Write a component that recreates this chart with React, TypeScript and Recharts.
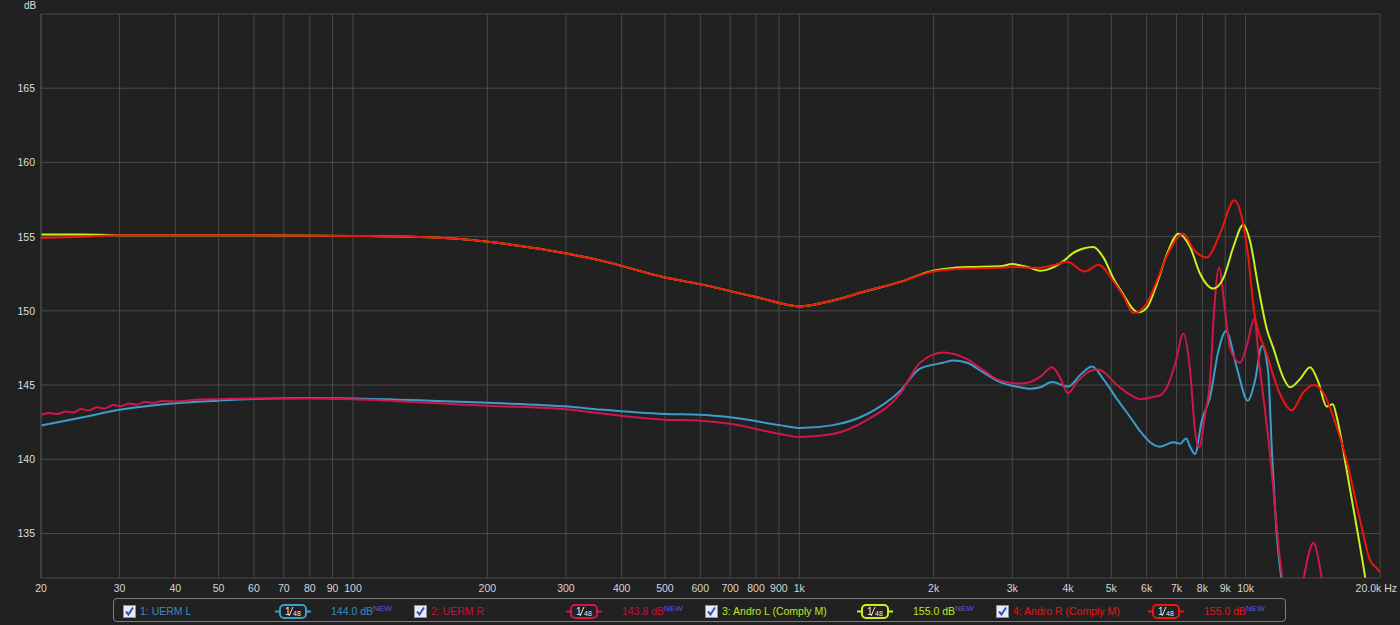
import { LineChart, Line, XAxis, YAxis, CartesianGrid } from 'recharts'

// log frequency ticks (Hz) and level ticks (dB)
const freqTicks = [20, 30, 40, 50, 60, 70, 80, 90, 100, 200, 300, 400, 500, 600, 700, 800, 900, 1000, 2000, 3000, 4000, 5000, 6000, 7000, 8000, 9000, 10000, 20000]
const dbTicks = [135, 140, 145, 150, 155, 160, 165]
const gridDb = [135, 140, 145, 150, 155, 160, 165, 170]

// 1: UERM L
const uermLFreq = [20, 25, 30, 40, 50, 60, 80, 100, 149, 201, 303, 358, 500, 599, 700, 905, 1004, 1190, 1419, 1682, 1864, 2100, 2211, 2377, 2582, 2818, 3124, 3289, 3462, 3684, 4000, 4280, 4528, 4800, 5151, 5510, 5800, 6107, 6432, 6890, 7130, 7354, 7508, 7704, 7975, 8324, 8688, 9038, 9550, 10108, 10496, 10880, 11222, 11458, 11756, 12064, 12684, 20000]
const uermLDb = [142.27, 142.85, 143.33, 143.77, 143.95, 144.06, 144.12, 144.1, 143.95, 143.8, 143.55, 143.35, 143.05, 143.0, 142.83, 142.3, 142.1, 142.3, 143.05, 144.6, 146.1, 146.5, 146.65, 146.5, 145.85, 145.2, 144.85, 144.75, 144.85, 145.2, 144.9, 145.75, 146.25, 145.4, 144.05, 142.85, 141.9, 141.15, 140.85, 141.15, 141.05, 141.4, 140.85, 140.35, 142.6, 144.2, 147.3, 148.65, 146.2, 143.95, 145.3, 147.65, 146.0, 140.4, 134.7, 131.5, 124, 110]

// 2: UERM R
const uermRFreq = [20, 20.9, 21.8, 22.7, 23.6, 24.6, 25.6, 26.7, 27.8, 29, 30.2, 31.5, 32.8, 34.2, 35.6, 37.5, 40, 45, 50, 60, 80, 100, 149, 201, 303, 358, 500, 599, 700, 905, 1004, 1190, 1419, 1682, 1864, 2100, 2377, 2582, 2818, 3124, 3289, 3462, 3684, 3839, 4000, 4185, 4528, 4677, 5151, 5510, 5800, 6202, 6432, 6660, 6950, 7252, 7508, 7704, 7864, 8112, 8324, 8498, 8720, 8992, 9226, 9714, 10108, 10442, 10770, 11338, 11940, 12146, 12800, 13468, 14182, 14834, 15500, 20000]
const uermRDb = [143.0, 143.12, 143.05, 143.22, 143.15, 143.38, 143.28, 143.5, 143.42, 143.66, 143.58, 143.76, 143.68, 143.85, 143.8, 143.93, 143.9, 144.02, 144.05, 144.1, 144.1, 144.05, 143.8, 143.6, 143.35, 143.1, 142.67, 142.6, 142.4, 141.7, 141.5, 141.7, 142.65, 144.4, 146.5, 147.2, 146.75, 146.0, 145.3, 145.1, 145.2, 145.55, 146.2, 145.5, 144.45, 145.2, 146.0, 146.05, 145.0, 144.35, 144.05, 144.2, 144.3, 144.85, 146.4, 148.45, 146.0, 141.9, 140.8, 143.0, 145.3, 150.0, 152.9, 150.0, 147.5, 146.5, 147.9, 149.45, 146.0, 140.4, 133.2, 131.5, 128, 131.9, 134.35, 131.9, 128, 115]

// 3: Andro L (Comply M)
const androLFreq = [20, 25, 30, 40, 60, 100, 149, 201, 303, 358, 500, 599, 808, 1004, 1190, 1419, 1682, 1994, 2377, 2818, 3000, 3289, 3462, 3684, 3924, 4110, 4328, 4558, 4800, 5054, 5322, 5604, 5750, 6004, 6323, 6660, 7070, 7508, 7906, 8466, 8916, 9386, 9882, 10230, 10676, 11148, 11534, 12146, 12574, 13240, 13942, 14552, 15196, 15674, 16000, 16846, 17740, 18516, 20000]
const androLDb = [155.15, 155.15, 155.1, 155.1, 155.1, 155.05, 154.95, 154.65, 153.85, 153.4, 152.25, 151.8, 150.9, 150.3, 150.7, 151.35, 151.95, 152.7, 152.95, 153.0, 153.15, 152.9, 152.7, 152.9, 153.4, 153.9, 154.2, 154.3, 153.6, 152.2, 151.1, 150.1, 149.9, 150.2, 151.8, 153.8, 155.2, 154.3, 152.5, 151.5, 152.2, 154.3, 155.8, 154.7, 151.6, 148.8, 147.5, 145.5, 144.85, 145.4, 146.2, 145.2, 143.55, 143.7, 142.85, 139.25, 135.4, 132.1, 125]

// 4: Andro R (Comply M)
const androRFreq = [20, 25, 30, 40, 60, 100, 149, 201, 303, 358, 500, 599, 808, 1004, 1190, 1419, 1682, 1994, 2377, 2818, 3000, 3462, 3684, 3974, 4368, 4677, 5054, 5322, 5604, 6004, 6323, 6660, 7252, 7636, 8184, 8764, 9434, 9800, 10140, 10442, 11148, 11940, 12684, 13468, 14182, 14932, 15722, 16846, 18046, 19000, 19670, 20000]
const androRDb = [154.9, 155.0, 155.1, 155.1, 155.1, 155.05, 154.95, 154.65, 153.85, 153.4, 152.25, 151.8, 150.9, 150.3, 150.7, 151.35, 151.95, 152.65, 152.85, 152.9, 152.95, 152.9, 153.05, 153.3, 152.65, 153.1, 152.0, 151.0, 149.85, 150.5, 152.0, 153.7, 155.2, 154.15, 153.6, 155.2, 157.45, 156.3, 153.6, 150.0, 147.1, 144.4, 143.3, 144.5, 145.0, 144.5, 142.85, 139.9, 135.9, 133.2, 132.65, 132.4]

const seriesNames = ['1: UERM L', '2: UERM R', '3: Andro L (Comply M)', '4: Andro R (Comply M)']
const seriesLevels = ['144.0 dB', '143.8 dB', '155.0 dB', '155.0 dB']

const zip = (f: number[], d: number[]) => f.map((v, i) => ({ f: v, db: d[i] }))

const series = [
  { name: seriesNames[0], level: seriesLevels[0], data: zip(uermLFreq, uermLDb), stroke: '#3b9dc9', text: '#3a8cc0' },
  { name: seriesNames[1], level: seriesLevels[1], data: zip(uermRFreq, uermRDb), stroke: '#cf1748', text: '#c3123e' },
  { name: seriesNames[2], level: seriesLevels[2], data: zip(androLFreq, androLDb), stroke: '#c8f21c', text: '#bde81e' },
  { name: seriesNames[3], level: seriesLevels[3], data: zip(androRFreq, androRDb), stroke: '#ee140f', text: '#e2161a' },
]

const BG = '#212121'
const GRID = '#4a4a4a'
const FONT = '"Liberation Sans", Arial, sans-serif'

function freqLabel(v: number) {
  if (v === 20000) return '20.0k Hz'
  return v >= 1000 ? v / 1000 + 'k' : String(v)
}

function XTick({ x, y, payload }: any) {
  const last = payload.value === 20000
  return (
    <text x={last ? x + 17 : x} y={y + 14} textAnchor={last ? 'end' : 'middle'} fill="#d6d6d6" fontSize={10.5} fontFamily={FONT}>
      {freqLabel(payload.value)}
    </text>
  )
}

function YTick({ x, y, payload }: any) {
  return (
    <text x={x - 6} y={y + 4} textAnchor="end" fill="#dedede" fontSize={10.5} fontFamily={FONT}>
      {payload.value}
    </text>
  )
}

function CheckBox() {
  return (
    <svg width={13} height={13} style={{ position: 'absolute', left: 0, top: 7 }}>
      <rect x={0.5} y={0.5} width={12} height={12} fill="#e9ecf4" stroke="#8c90a0" />
      <path d="M3 6.5 L5.5 9.5 L10 2.5" fill="none" stroke="#3552c4" strokeWidth={2} />
    </svg>
  )
}

function Badge({ color }: { color: string }) {
  return (
    <svg width={36} height={15} style={{ position: 'absolute', left: 152, top: 6 }}>
      <line x1={0} y1={7.5} x2={36} y2={7.5} stroke={color} strokeWidth={2} />
      <rect x={5} y={1} width={26} height={13} rx={4} fill={BG} stroke={color} strokeWidth={2} />
      <text x={10} y={11} fill="#e8e8e8" fontSize={10} fontFamily={FONT}>1</text>
      <line x1={14} y1={12} x2={18} y2={3} stroke="#e8e8e8" strokeWidth={1} />
      <text x={18} y={12} fill="#e8e8e8" fontSize={7} fontFamily={FONT}>48</text>
    </svg>
  )
}

function LegendBar() {
  return (
    <div
      style={{
        position: 'absolute',
        left: 113,
        top: 598,
        width: 1173,
        height: 24,
        border: '1px solid #7c7c7c',
        borderRadius: 4,
        boxSizing: 'border-box',
        fontFamily: FONT,
        fontSize: 10.5,
      }}
    >
      {series.map((s, i) => (
        <div key={s.name} style={{ position: 'absolute', left: 9 + i * 291, top: -1, height: 24, width: 280 }}>
          <CheckBox />
          <span style={{ position: 'absolute', left: 17, top: 7, color: s.text, whiteSpace: 'nowrap' }}>{s.name}</span>
          <Badge color={s.stroke} />
          <span style={{ position: 'absolute', left: 208, top: 7, color: s.text, whiteSpace: 'nowrap' }}>
            {s.level}
            <span style={{ color: '#5a58e0', fontSize: 8, position: 'relative', top: -4 }}>NEW</span>
          </span>
        </div>
      ))}
    </div>
  )
}

export default function App() {
  return (
    <div style={{ position: 'relative', width: 1400, height: 625, background: BG, overflow: 'hidden' }}>
      <style>{'body{margin:0;background:#212121}'}</style>
      <div style={{ position: 'absolute', left: 24, top: 0, color: '#dedede', fontFamily: FONT, fontSize: 10 }}>dB</div>
      <LineChart width={1400} height={625} margin={{ top: 14, right: 20, bottom: 0, left: 0 }}>
        <CartesianGrid stroke={GRID} horizontalValues={gridDb} verticalValues={freqTicks} />
        <XAxis
          dataKey="f"
          type="number"
          scale="log"
          domain={[20, 20000]}
          ticks={freqTicks}
          interval={0}
          allowDataOverflow
          height={47}
          axisLine={{ stroke: GRID }}
          tickLine={false}
          tickSize={0}
          tickMargin={0}
          tick={<XTick />}
        />
        <YAxis
          type="number"
          domain={[132, 170]}
          ticks={dbTicks}
          interval={0}
          allowDataOverflow
          width={41}
          axisLine={{ stroke: GRID }}
          tickLine={false}
          tickSize={0}
          tickMargin={0}
          tick={<YTick />}
        />
        {series.map((s) => (
          <Line
            key={s.name}
            data={s.data}
            dataKey="db"
            type="monotone"
            stroke={s.stroke}
            strokeWidth={2}
            dot={false}
            isAnimationActive={false}
          />
        ))}
      </LineChart>
      <LegendBar />
    </div>
  )
}
